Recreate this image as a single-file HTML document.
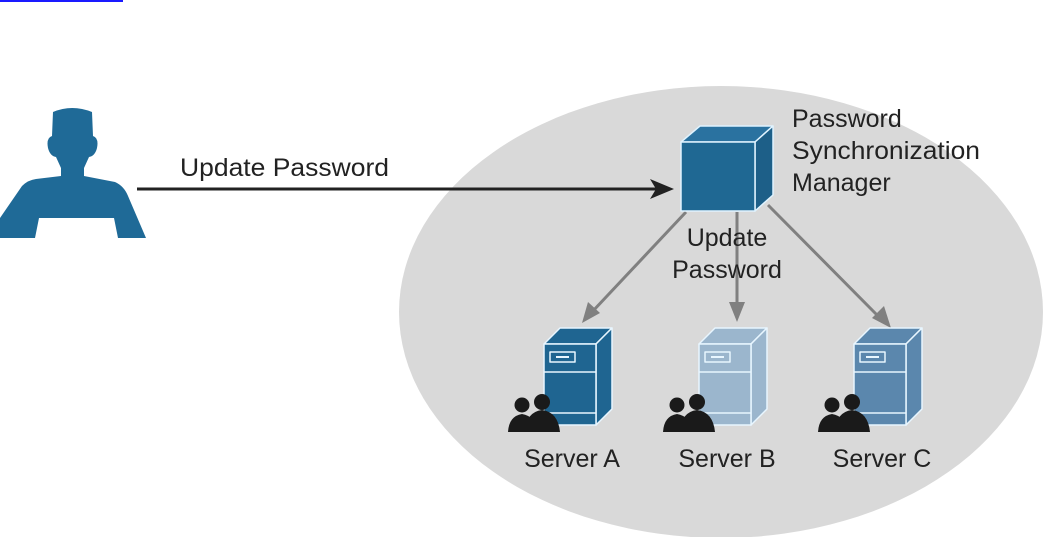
<!DOCTYPE html>
<html><head><style>body{margin:0;background:#fff}svg{display:block}</style></head>
<body>
<svg width="1044" height="537" viewBox="0 0 1044 537" xmlns="http://www.w3.org/2000/svg" font-family="Liberation Sans, Arial, sans-serif">
<rect x="0" y="0" width="123" height="2" fill="#1a1aff"/>
<ellipse cx="721" cy="312" rx="322" ry="226" fill="#d9d9d9"/>
<g fill="#1f6a97">
<path d="M53 112 Q72 104 92 112 L93 136 Q99 138 97 148 Q95 156 89 157 L84 168 L84 176 L115 182 Q124 186 128 196 L146 238 L118 238 L114 218 L39 218 L35 238 L0 238 L0 218 L22 186 Q28 180 36 179 L61 176 L61 168 L56 157 Q50 156 48 148 Q46 138 52 136 Z"/>
</g>
<line x1="137" y1="189" x2="660" y2="189" stroke="#222" stroke-width="3"/>
<path d="M674 189 L650 179 L656 189 L650 199 Z" fill="#222"/>
<text x="180" y="176" font-size="25" fill="#222" textLength="209" lengthAdjust="spacingAndGlyphs">Update Password</text>
<g stroke="#808080" stroke-width="3">
<line x1="686" y1="212" x2="592" y2="312"/>
<line x1="737" y1="212" x2="737" y2="308"/>
<line x1="768" y1="205" x2="880" y2="318"/>
</g>
<g fill="#808080">
<path d="M582 323 L588 302 L600 313 Z"/>
<path d="M737 322 L729 302 L745 302 Z"/>
<path d="M891 328 L872 318 L884 306 Z"/>
</g>
<g stroke="#dff3ff" stroke-width="1.5" stroke-linejoin="round">
<path d="M681 142 L700 126 L773 126 L755 142 Z" fill="#2a72a0"/>
<path d="M755 142 L773 126 L773 195 L755 211 Z" fill="#1d5f88"/>
<rect x="681" y="142" width="74" height="69" fill="#1f6893"/>
</g>
<text font-size="25" fill="#222"><tspan x="792" y="127">Password</tspan><tspan x="792" y="159" textLength="188" lengthAdjust="spacingAndGlyphs">Synchronization</tspan><tspan x="792" y="191">Manager</tspan></text>
<text font-size="25" fill="#222" text-anchor="middle"><tspan x="727" y="246">Update</tspan><tspan x="727" y="278">Password</tspan></text>
<defs>
<g id="srv" stroke="#e8f6ff" stroke-width="1.5" stroke-linejoin="round">
<path d="M0 16 L16 0 L68 0 L52 16 Z"/>
<path d="M52 16 L68 0 L68 81 L52 97 Z"/>
<rect x="0" y="16" width="52" height="81"/>
<rect x="6" y="24" width="25" height="10" fill="none"/>
<line x1="12" y1="29" x2="25" y2="29" stroke-width="2"/>
<line x1="0" y1="44" x2="52" y2="44"/>
<line x1="0" y1="85" x2="52" y2="85"/>
</g>
<g id="ppl" fill="#1a1a1a">
<circle cx="14" cy="11" r="7.5"/><path d="M0 38 Q1 22 14 20 Q27 22 30 38 Z"/>
<circle cx="34" cy="8" r="8"/><path d="M17 38 Q18 18 34 16 Q50 18 52 38 Z"/>
</g>
</defs>
<use href="#srv" x="544" y="328" fill="#1f6591"/>
<use href="#srv" x="699" y="328" fill="#9bb6cd"/>
<use href="#srv" x="854" y="328" fill="#5b87ad"/>
<use href="#ppl" x="508" y="394"/>
<use href="#ppl" x="663" y="394"/>
<use href="#ppl" x="818" y="394"/>
<text font-size="25" fill="#222" text-anchor="middle"><tspan x="572" y="467">Server A</tspan><tspan x="727" y="467">Server B</tspan><tspan x="882" y="467">Server C</tspan></text>
</svg>
</body></html>
